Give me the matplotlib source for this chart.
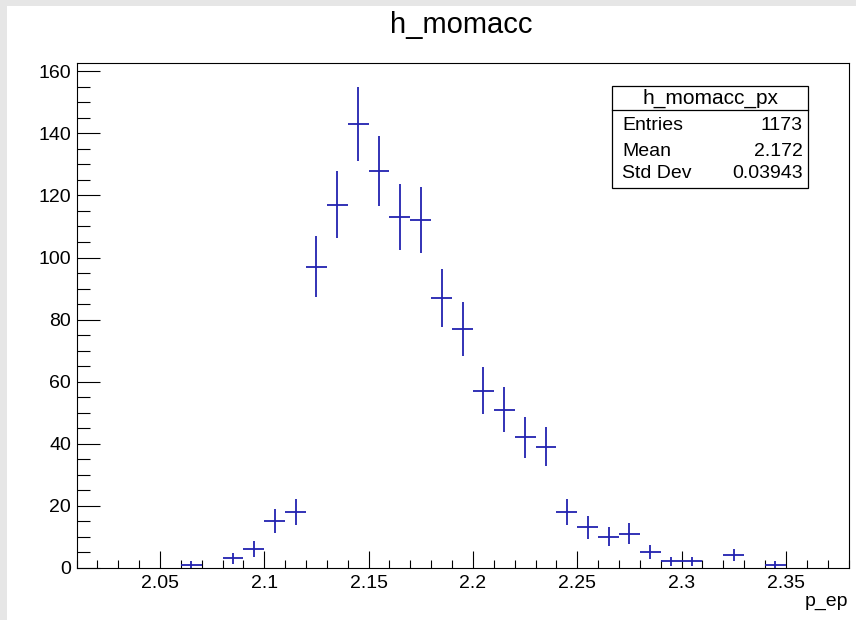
import numpy as np
import matplotlib
matplotlib.use('Agg')
from matplotlib import pyplot as plt
from matplotlib.patches import Rectangle
from matplotlib.ticker import MultipleLocator

# histogram contents (bin width 0.01), empty bins left out
bin_centers = [2.065, 2.085, 2.095, 2.105, 2.115, 2.125, 2.135, 2.145, 2.155,
               2.165, 2.175, 2.185, 2.195, 2.205, 2.215, 2.225, 2.235, 2.245,
               2.255, 2.265, 2.275, 2.285, 2.295, 2.305, 2.325, 2.345]
counts = [1, 3, 6, 15, 18, 97, 117, 143, 128,
          113, 112, 87, 77, 57, 51, 42, 39, 18,
          13, 10, 11, 5, 2, 2, 4, 1]
bin_width = 0.01
x_range = (2.01, 2.38)
x_ticks = [2.05, 2.1, 2.15, 2.2, 2.25, 2.3, 2.35]
x_ticklabels = ['2.05', '2.1', '2.15', '2.2', '2.25', '2.3', '2.35']
y_ticks = [0, 20, 40, 60, 80, 100, 120, 140, 160]
stat_names = ['Entries', 'Mean', 'Std Dev']
stat_values = ['1173', '2.172', '0.03943']

W, H = 856, 620
plt.rcParams['font.family'] = ['Liberation Sans', 'DejaVu Sans']


def fx(x):
    return x / W


def fy(y):
    return 1 - y / H


fig = plt.figure(figsize=(W / 100, H / 100), dpi=100, facecolor='#e6e6e6')
fig.patches.append(Rectangle((fx(7), 0), 1, fy(6), transform=fig.transFigure,
                             facecolor='white', edgecolor='none', zorder=-10))

ax = fig.add_axes([fx(76.5), fy(567.7), fx(848.5 - 76.5), (567.7 - 63) / H])
ax.set_facecolor('white')

x = np.array(bin_centers)
n = np.array(counts, dtype=float)
ax.errorbar(x, n, xerr=bin_width / 2, yerr=np.sqrt(n), fmt='none',
            ecolor='#2222b0', elinewidth=1.3, capsize=0)

ax.set_xlim(*x_range)
ymax = 1.05 * np.max(n + np.sqrt(n))
ax.set_ylim(0, ymax)

ax.set_xticks(x_ticks)
ax.set_xticklabels(x_ticklabels)
ax.xaxis.set_minor_locator(MultipleLocator(0.01))
ax.set_yticks(y_ticks)
ax.yaxis.set_minor_locator(MultipleLocator(5))
ax.tick_params(axis='x', which='major', direction='in', length=12.5, width=0.8,
               labelsize=14, pad=5, top=False)
ax.tick_params(axis='x', which='minor', direction='in', length=6, width=0.8, top=False)
ax.tick_params(axis='y', which='major', direction='in', length=16.5, width=0.8,
               labelsize=14, pad=4, right=False)
ax.tick_params(axis='y', which='minor', direction='in', length=9, width=0.8, right=False)
for sp in ax.spines.values():
    sp.set_linewidth(0.8)

# title and axis label
fig.text(fx(461), fy(25), 'h_momacc', ha='center', va='center', fontsize=21)
fig.text(fx(848), fy(602), 'p_ep', ha='right', va='center', fontsize=14)

# stats box
bx0, bx1, by0, by1, bsep = 612, 808, 86, 188, 110
fig.patches.append(Rectangle((fx(bx0), fy(by1)), fx(bx1 - bx0), (by1 - by0) / H,
                             transform=fig.transFigure, facecolor='white',
                             edgecolor='black', linewidth=0.9, zorder=5))
fig.add_artist(plt.Line2D([fx(bx0), fx(bx1)], [fy(bsep), fy(bsep)],
                          transform=fig.transFigure, color='black', linewidth=0.9, zorder=6))
fig.text(fx((bx0 + bx1) / 2), fy(98), 'h_momacc_px', ha='center', va='center',
         fontsize=15, zorder=7)
for name, val, yy in zip(stat_names, stat_values, [126, 151, 174]):
    fig.text(fx(bx0 + 10), fy(yy), name, ha='left', va='center', fontsize=14, zorder=7)
    fig.text(fx(bx1 - 5), fy(yy), val, ha='right', va='center', fontsize=14, zorder=7)

fig.savefig('out.png', dpi=100, facecolor=fig.get_facecolor())
